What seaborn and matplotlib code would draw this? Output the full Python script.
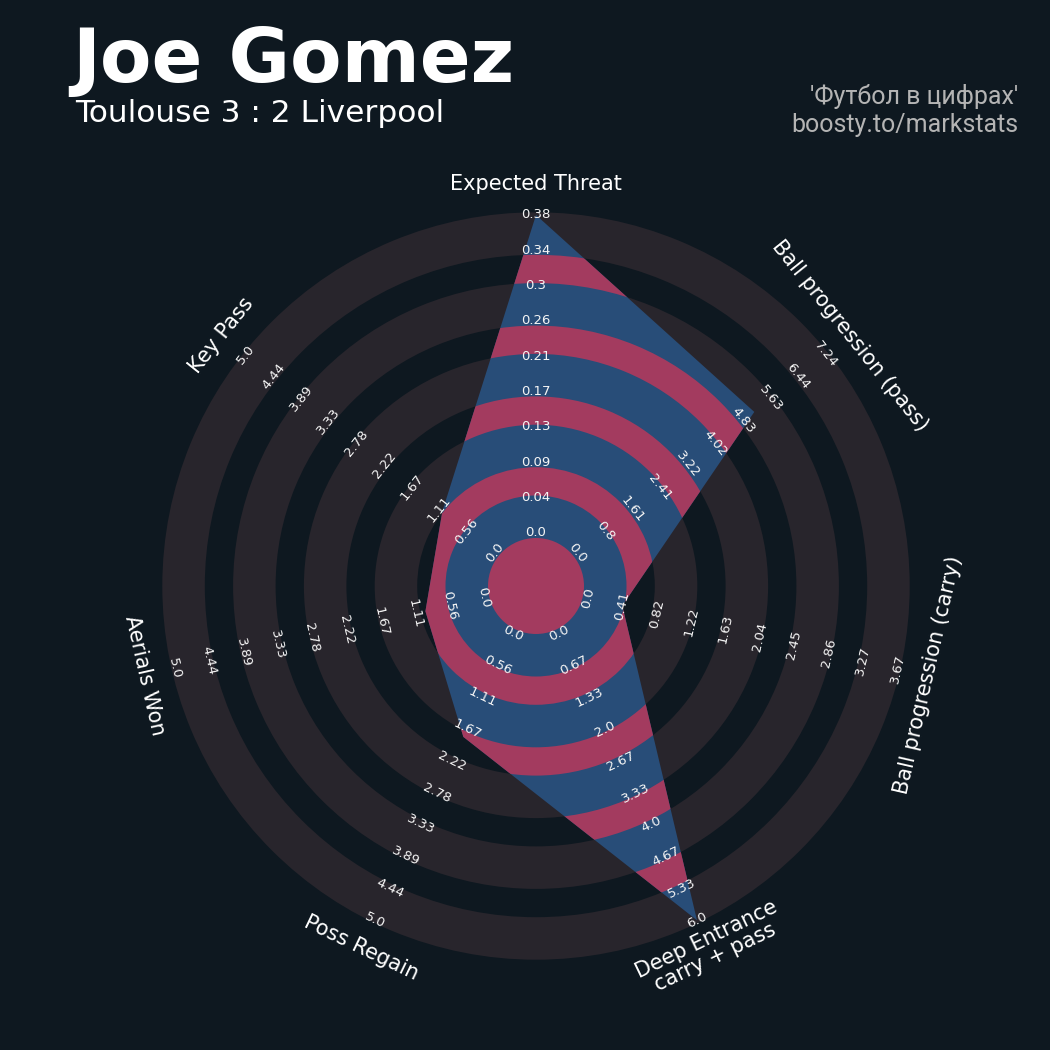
import numpy as np
import pandas as pd
import matplotlib
matplotlib.use('Agg')
import matplotlib.pyplot as plt
import seaborn as sns
from matplotlib.patches import Polygon, Wedge

# %%
# Data read off the reference radar
params = ['Expected Threat', 'Ball progression (pass)', 'Ball progression (carry)',
          'Deep Entrance\ncarry + pass', 'Poss Regain', 'Aerials Won', 'Key Pass']
low = [0, 0, 0, 0, 0, 0, 0]
high = [0.38, 7.24, 3.67, 6.0, 5.0, 5.0, 5.0]
values = [0.38, 5.15, 0.41, 6.0, 1.8, 0.95, 1.05]

labels_xt = ['0.0', '0.04', '0.09', '0.13', '0.17', '0.21', '0.26', '0.3', '0.34', '0.38']
labels_pass = ['0.0', '0.8', '1.61', '2.41', '3.22', '4.02', '4.83', '5.63', '6.44', '7.24']
labels_carry = ['0.0', '0.41', '0.82', '1.22', '1.63', '2.04', '2.45', '2.86', '3.27', '3.67']
labels_deep = ['0.0', '0.67', '1.33', '2.0', '2.67', '3.33', '4.0', '4.67', '5.33', '6.0']
labels_five = ['0.0', '0.56', '1.11', '1.67', '2.22', '2.78', '3.33', '3.89', '4.44', '5.0']
range_labels = [labels_xt, labels_pass, labels_carry, labels_deep,
                labels_five, labels_five, labels_five]

player = 'Joe Gomez'
match = 'Toulouse 3 : 2 Liverpool'
credit_1 = "'Футбол в цифрах'"
credit_2 = 'boosty.to/markstats'

# %%
# Style
BG = '#0e1820'
RING = '#28252c'
BLUE = '#284d78'
PINK = '#a33b5f'

sns.set_theme(style='dark', rc={'figure.facecolor': BG, 'axes.facecolor': BG,
                                'text.color': 'white'})
plt.rcParams['font.family'] = ['DejaVu Sans']

# geometry (pixels, centre of radar at origin)
center_r = 48
ring_w = 42.5
gap_w = 28.3
n_rings = 5
r_lo, r_hi = 53, 371
label_r = 402

df = pd.DataFrame({'param': params, 'low': low, 'high': high, 'value': values})
n = len(df)
df['theta'] = np.pi / 2 - np.arange(n) * 2 * np.pi / n
df['frac'] = (df['value'] - df['low']) / (df['high'] - df['low'])
df['r'] = r_lo + df['frac'] * (r_hi - r_lo)


def text_rotation(theta):
    deg = np.degrees(theta) - 90
    deg = (deg + 180) % 360 - 180
    if deg < -90:
        deg += 180
    elif deg > 90:
        deg -= 180
    return deg


fig = plt.figure(figsize=(10.5, 10.5), dpi=100)
ax = fig.add_axes([0, 0, 1, 1])
ax.set_xlim(-536, 514)
ax.set_ylim(-464, 586)
ax.set_aspect('equal')
ax.axis('off')

# background rings
ring_starts = center_r + np.arange(n_rings) * (ring_w + gap_w)
for start in ring_starts:
    ax.add_patch(Wedge((0, 0), start + ring_w, 0, 360, width=ring_w,
                       facecolor=RING, edgecolor='none', zorder=1))

# radar polygon + inner rings clipped to it
xy = np.column_stack([df['r'] * np.cos(df['theta']), df['r'] * np.sin(df['theta'])])
radar = Polygon(xy, closed=True, facecolor=BLUE, edgecolor='none', zorder=2)
ax.add_patch(radar)

inner = [Wedge((0, 0), center_r, 0, 360, facecolor=PINK, edgecolor='none', zorder=3)]
for start in ring_starts[:-1]:
    outer = start + ring_w + gap_w
    inner.append(Wedge((0, 0), outer, 0, 360, width=gap_w,
                       facecolor=PINK, edgecolor='none', zorder=3))
for w in inner:
    ax.add_patch(w)
    w.set_clip_path(radar)

# range labels
lab_radii = np.linspace(r_lo, r_hi, 10)
for i, row in df.iterrows():
    rot = text_rotation(row['theta'])
    for rr, lab in zip(lab_radii, range_labels[i]):
        ax.text(rr * np.cos(row['theta']), rr * np.sin(row['theta']), lab,
                fontsize=9.5, color='#f5f5f5', ha='center', va='center',
                rotation=rot, rotation_mode='anchor', zorder=5)

# parameter labels
for i, row in df.iterrows():
    ax.text(label_r * np.cos(row['theta']), label_r * np.sin(row['theta']), row['param'],
            fontsize=15, color='white', ha='center', va='center', multialignment='center',
            linespacing=1.0, rotation=text_rotation(row['theta']),
            rotation_mode='anchor', zorder=5)

# titles
fig.text(72 / 1050, 1 - 82 / 1050, player, fontsize=54, fontweight='bold',
         color='white', ha='left', va='baseline')
fig.text(75 / 1050, 1 - 122 / 1050, match, fontsize=22.5, color='white',
         ha='left', va='baseline')
fig.text(1018 / 1050, 1 - 104 / 1050, credit_1, fontsize=18, color='#b4b4b4',
         ha='right', va='baseline', family=['Roboto', 'DejaVu Sans'])
fig.text(1018 / 1050, 1 - 132 / 1050, credit_2, fontsize=18, color='#b4b4b4',
         ha='right', va='baseline', family=['Roboto', 'DejaVu Sans'])

fig.savefig('out.png', dpi=100, facecolor=BG)
